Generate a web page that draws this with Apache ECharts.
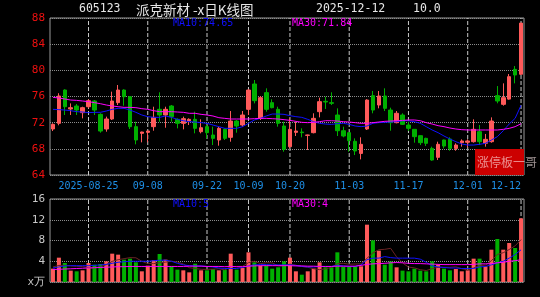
<!DOCTYPE html>
<html><head><meta charset="utf-8">
<script src="https://cdn.jsdelivr.net/npm/echarts@6/dist/echarts.min.js"></script>
<style>html,body{margin:0;padding:0;background:#000;}#c{width:540px;height:297px;}</style>
</head><body><div id="c"></div><script>
const dates = ['2025-08-15','2025-08-18','2025-08-19','2025-08-20','2025-08-21','2025-08-22','2025-08-25','2025-08-26','2025-08-27','2025-08-28',
'2025-08-29','2025-09-01','2025-09-02','2025-09-03','2025-09-04','2025-09-05','2025-09-08','2025-09-09','2025-09-10','2025-09-11',
'2025-09-12','2025-09-15','2025-09-16','2025-09-17','2025-09-18','2025-09-19','2025-09-22','2025-09-23','2025-09-24','2025-09-25',
'2025-09-26','2025-09-29','2025-09-30','2025-10-09','2025-10-10','2025-10-13','2025-10-14','2025-10-15','2025-10-16','2025-10-17',
'2025-10-20','2025-10-21','2025-10-22','2025-10-23','2025-10-24','2025-10-27','2025-10-28','2025-10-29','2025-10-30','2025-10-31',
'2025-11-03','2025-11-04','2025-11-05','2025-11-06','2025-11-07','2025-11-10','2025-11-11','2025-11-12','2025-11-13','2025-11-14',
'2025-11-17','2025-11-18','2025-11-19','2025-11-20','2025-11-21','2025-11-24','2025-11-25','2025-11-26','2025-11-27','2025-11-28',
'2025-12-01','2025-12-02','2025-12-03','2025-12-04','2025-12-05','2025-12-08','2025-12-09','2025-12-10','2025-12-11','2025-12-12'];

const opens = [71.03,71.90,76.99,74.09,74.55,73.53,74.44,75.31,73.27,71.03,
72.56,75.06,76.99,75.97,71.39,70.37,70.52,71.39,74.04,73.17,
74.55,72.51,71.90,72.25,72.51,70.62,71.39,70.11,69.35,70.98,
69.76,72.25,71.64,74.04,77.91,72.66,76.59,75.06,74.04,71.49,
68.33,70.52,70.57,70.06,70.47,73.68,75.26,75.06,73.17,70.77,
70.47,69.15,67.30,71.03,76.13,74.70,76.08,73.93,72.00,73.17,
71.64,70.98,70.01,69.60,68.07,66.70,69.35,69.50,68.07,68.94,
69.00,69.09,70.62,68.84,69.09,76.13,74.80,75.60,80.15,79.40];

const closes = [71.74,76.08,74.44,74.29,73.93,74.29,75.36,73.93,70.72,72.56,
75.31,76.99,75.97,71.39,69.35,70.57,70.72,72.81,73.17,74.04,
72.92,71.90,72.61,72.51,71.13,71.23,70.47,69.60,71.13,69.60,
72.25,71.49,73.17,76.99,75.36,75.82,74.04,74.29,71.90,67.92,
70.98,70.72,70.47,70.11,72.66,75.21,75.16,74.95,70.77,69.96,
69.25,67.67,68.69,75.46,73.93,76.08,74.19,72.00,73.43,71.74,
71.13,69.86,68.94,68.84,66.29,68.69,68.43,68.07,68.58,69.20,
69.20,70.98,69.09,69.45,72.25,75.31,75.82,79.03,79.29,87.22];

const lows = [70.72,71.60,73.17,73.17,73.17,72.66,74.19,73.17,70.47,70.62,
72.41,74.70,74.60,71.03,68.69,68.99,68.99,70.77,72.15,71.23,
72.15,71.13,70.98,71.64,70.37,70.37,69.60,68.58,68.48,69.35,
69.09,70.47,71.39,73.17,74.95,72.41,73.68,74.19,71.39,67.56,
68.07,69.96,69.76,67.82,70.37,72.81,74.09,74.70,69.96,69.76,
67.56,67.05,66.39,70.88,73.43,74.19,73.78,70.77,71.90,71.64,
70.72,68.94,68.58,68.43,66.19,66.29,68.07,67.71,67.71,68.33,
68.20,68.95,68.58,68.33,68.94,74.96,74.60,75.50,78.01,79.30];

const highs = [71.90,76.50,77.10,74.95,74.85,74.44,75.57,75.46,73.43,72.92,
76.74,77.76,77.10,76.08,72.15,70.62,70.77,74.44,76.64,74.44,
74.70,72.66,72.92,72.66,73.68,72.51,71.64,71.39,71.39,71.13,
73.78,72.41,73.78,77.10,78.52,76.08,77.25,75.57,74.44,72.15,
72.66,72.15,71.13,70.16,73.43,75.82,75.97,76.64,74.19,71.39,
70.57,69.60,69.76,75.57,76.84,76.84,77.25,74.29,73.78,73.43,
72.15,71.03,70.06,69.70,68.33,69.09,69.40,69.76,68.84,69.45,
69.45,72.51,71.64,70.27,72.81,77.60,78.01,79.44,80.66,87.22];

const ma10 = [74.04,73.99,73.93,73.83,73.68,73.63,73.53,73.58,73.58,73.78,
74.04,74.19,74.19,73.93,73.58,73.17,72.92,72.81,72.81,73.02,
72.81,72.51,72.30,72.15,72.10,72.00,71.90,71.64,71.39,71.13,
71.13,71.13,71.39,71.90,72.41,72.66,73.02,73.32,73.32,73.27,
73.07,72.92,72.81,72.51,72.15,71.90,71.79,71.74,71.85,71.90,
71.74,71.49,71.39,71.49,71.90,72.00,72.05,72.10,72.15,72.30,
72.30,72.15,71.90,71.39,70.88,70.47,69.96,69.50,69.09,68.74,
68.58,68.58,68.69,68.84,69.35,69.86,70.77,71.79,72.66,74.65];

const ma30 = [75.87,75.77,75.62,75.46,75.41,75.31,75.21,75.06,74.90,74.70,
74.55,74.44,74.34,74.34,74.29,74.14,74.04,73.83,73.68,73.68,
73.68,73.63,73.58,73.43,73.43,73.27,73.17,73.02,72.76,72.66,
72.56,72.56,72.56,72.56,72.61,72.66,72.66,72.61,72.56,72.46,
72.35,72.20,72.05,72.00,72.05,72.15,72.30,72.30,72.25,72.15,
72.10,72.00,71.90,71.90,72.00,72.10,72.20,72.25,72.30,72.35,
72.41,72.41,72.30,72.00,71.79,71.54,71.39,71.18,71.03,70.93,
70.88,70.88,70.88,70.88,70.88,70.88,70.98,71.13,71.39,71.84];

const volumes = [2.57,4.69,3.66,2.19,2.06,2.25,3.66,3.34,3.47,3.98,
5.46,5.27,4.31,4.50,3.79,2.06,3.15,4.18,5.40,4.31,
3.02,2.38,2.25,1.86,3.53,2.25,2.25,2.51,2.25,2.38,
5.46,2.38,2.70,5.72,3.79,3.15,3.15,2.57,2.83,3.98,
4.69,2.06,1.41,2.06,2.57,3.79,2.83,2.83,5.72,2.89,
2.89,3.02,3.02,11.05,8.03,6.04,3.34,3.98,2.83,2.19,
2.06,2.57,2.19,2.06,3.98,3.34,2.57,2.25,2.51,2.06,
2.25,4.50,4.50,3.02,6.23,8.29,6.23,7.52,6.56,12.27];

const volMa5 = [2.90,3.20,3.20,3.10,3.03,2.97,2.76,2.70,2.96,3.34,
3.98,4.30,4.50,4.70,4.67,3.99,3.56,3.54,3.72,3.82,
4.01,3.86,3.47,2.76,2.61,2.45,2.43,2.48,2.56,2.33,
2.97,3.00,3.03,3.73,4.01,3.55,3.70,3.68,3.10,3.14,
3.44,3.23,2.99,2.84,2.56,2.38,2.53,2.82,3.55,3.61,
3.43,3.47,3.51,4.57,5.60,6.23,6.30,6.49,4.84,3.68,
2.88,2.73,2.37,2.21,2.57,2.83,2.83,2.84,2.93,2.55,
2.33,2.71,3.16,3.27,4.10,5.31,5.65,6.26,6.97,8.17];

const volMa10 = [2.70,2.90,3.10,3.15,3.15,3.15,3.15,3.20,3.30,3.40,
3.60,3.80,3.90,4.00,4.00,4.00,4.00,4.10,4.20,4.20,
4.00,3.60,3.30,3.15,3.10,3.10,3.00,2.90,2.70,2.60,
2.60,2.60,2.80,3.10,3.30,3.35,3.35,3.30,3.30,3.30,
3.30,3.20,3.00,2.90,2.90,3.00,3.00,3.00,3.20,3.10,
3.00,3.00,3.30,4.30,4.60,4.60,4.90,4.70,4.60,4.60,
4.60,4.60,4.40,3.80,3.10,2.90,2.80,2.70,2.70,2.60,
2.60,2.60,2.90,3.00,3.30,3.70,4.00,4.60,5.30,6.20];

const volMa30 = [2.40,2.45,2.50,2.55,2.60,2.65,2.70,2.75,2.80,2.85,
2.90,2.95,2.95,3.00,3.00,3.00,3.00,3.00,3.00,3.00,
3.00,3.00,3.00,3.05,3.05,3.05,3.00,3.00,3.00,2.95,
3.00,2.95,2.95,3.05,3.10,3.15,3.15,3.15,3.15,3.15,
3.15,3.10,3.10,3.05,3.05,3.00,3.00,3.00,3.05,3.05,
3.05,3.05,3.20,3.40,3.50,3.55,3.60,3.70,3.75,3.70,
3.60,3.55,3.55,3.50,3.45,3.40,3.35,3.35,3.35,3.35,
3.35,3.40,3.50,3.50,3.55,3.70,3.80,4.00,4.10,4.30];

const tickDates = ['2025-08-25','2025-09-08','2025-09-22','2025-10-09','2025-10-20','2025-11-03','2025-11-17','2025-12-01','2025-12-12'];
const tickLabels = ['2025-08-25','09-08','09-22','10-09','10-20','11-03','11-17','12-01','12-12'];
const priceRange = [64, 88];
const volRange = [0, 16];

const UP = '#ff5a5a', DOWN = '#00b000';
const MONO = '"DejaVu Sans Mono", monospace';
const CJK = '"Noto Sans CJK SC", sans-serif';

const candleData = dates.map((d, i) => [opens[i], closes[i], lows[i], highs[i]]);
const volData = volumes.map((v, i) => ({ value: v, itemStyle: { color: closes[i] >= opens[i] ? UP : DOWN } }));
const tickIdx = tickDates.map(d => dates.indexOf(d));
const isTick = (idx) => tickIdx.indexOf(idx) >= 0;

// one short two-point line series per date guide, in each grid
function guideSeries(xi, yi, range) {
  return tickIdx.map(k => ({
    type: 'line', xAxisIndex: xi, yAxisIndex: yi, symbol: 'none', silent: true, z: 1,
    data: [[k, range[0]], [k, range[1]]],
    lineStyle: { color: '#c8c8c8', type: 'dashed', dashOffset: 0, width: 1 }
  }));
}
function txt(x, y, s, color, font) {
  return { type: 'text', x: x, y: y, silent: true, z: 100,
    style: { text: s, fill: color, font: font, textVerticalAlign: 'middle' } };
}

const chart = echarts.init(document.getElementById('c'));
chart.setOption({
  backgroundColor: '#000',
  animation: false,
  grid: [
    { left: 50, right: 16, top: 18, height: 157, show: true, borderColor: '#9a9a9a', borderWidth: 1 },
    { left: 50, right: 16, top: 199, height: 83, show: true, borderColor: '#9a9a9a', borderWidth: 1 }
  ],
  xAxis: [
    { type: 'category', gridIndex: 0, data: dates, boundaryGap: true,
      axisLine: { show: false }, axisTick: { show: false }, splitLine: { show: false },
      axisLabel: { color: '#1e8fe6', fontFamily: MONO, fontSize: 10, margin: 6,
        alignMaxLabel: 'right',
        interval: (idx) => isTick(idx),
        formatter: (val) => { const k = tickDates.indexOf(val); return k >= 0 ? tickLabels[k] : ''; } } },
    { type: 'category', gridIndex: 1, data: dates, boundaryGap: true,
      axisLine: { show: false }, axisTick: { show: false }, splitLine: { show: false }, axisLabel: { show: false } }
  ],
  yAxis: [
    { type: 'value', gridIndex: 0, min: priceRange[0], max: priceRange[1], interval: 4,
      axisLine: { show: false }, axisTick: { show: false },
      axisLabel: { color: '#ee1010', fontFamily: MONO, fontSize: 11, margin: 5 },
      splitLine: { show: true, lineStyle: { color: '#8c8c8c', type: [1, 1], width: 1 } } },
    { type: 'value', gridIndex: 1, min: volRange[0], max: volRange[1], interval: 4,
      axisLine: { show: false }, axisTick: { show: false },
      axisLabel: { color: '#c8c8c8', fontFamily: MONO, fontSize: 11, margin: 5,
        formatter: v => v === 0 ? 'x万' : String(v) },
      splitLine: { show: true, lineStyle: { color: '#8c8c8c', type: [1, 1], width: 1 } } }
  ],
  series: [
    { type: 'candlestick', xAxisIndex: 0, yAxisIndex: 0, data: candleData, barWidth: 4, z: 2,
      itemStyle: { color: UP, color0: DOWN, borderColor: UP, borderColor0: DOWN, borderWidth: 1 } },
    { type: 'line', xAxisIndex: 0, yAxisIndex: 0, data: ma10, symbol: 'none', z: 3, lineStyle: { color: '#1010ff', width: 1 } },
    { type: 'line', xAxisIndex: 0, yAxisIndex: 0, data: ma30, symbol: 'none', z: 3, lineStyle: { color: '#ff00ff', width: 1 } },
    { type: 'bar', xAxisIndex: 1, yAxisIndex: 1, data: volData, barWidth: 4, z: 2 },
    { type: 'line', xAxisIndex: 1, yAxisIndex: 1, data: volMa5, symbol: 'none', z: 3, lineStyle: { color: '#6a2424', width: 1 } },
    { type: 'line', xAxisIndex: 1, yAxisIndex: 1, data: volMa10, symbol: 'none', z: 3, lineStyle: { color: '#1010ff', width: 1 } },
    { type: 'line', xAxisIndex: 1, yAxisIndex: 1, data: volMa30, symbol: 'none', z: 3, lineStyle: { color: '#ff00ff', width: 1 } }
  ].concat(guideSeries(0, 0, priceRange), guideSeries(1, 1, volRange)),
  graphic: [
    txt(79, 9.5, '605123', '#e6e6e6', '11.5px ' + MONO),
    txt(136, 9.5, '派克新材 -x日K线图', '#e6e6e6', '13.5px ' + CJK),
    txt(316, 9.5, '2025-12-12', '#e6e6e6', '11.5px ' + MONO),
    txt(413, 9.5, '10.0', '#e6e6e6', '11.5px ' + MONO),
    txt(173, 23.5, 'MA10:74.65', '#1010ff', '10px ' + MONO),
    txt(292, 23.5, 'MA30:71.84', '#ff00ff', '10px ' + MONO),
    txt(173, 204.5, 'MA10:5', '#1010ff', '10px ' + MONO),
    txt(292, 204.5, 'MA30:4', '#ff00ff', '10px ' + MONO),
    { type: 'rect', shape: { x: 475, y: 149, width: 49, height: 26 }, style: { fill: '#cc0000' }, z: 99, silent: true },
    txt(477, 162, '涨停板一哥', 'rgba(255,235,235,0.6)', '12px ' + CJK)
  ]
});
</script></body></html>
